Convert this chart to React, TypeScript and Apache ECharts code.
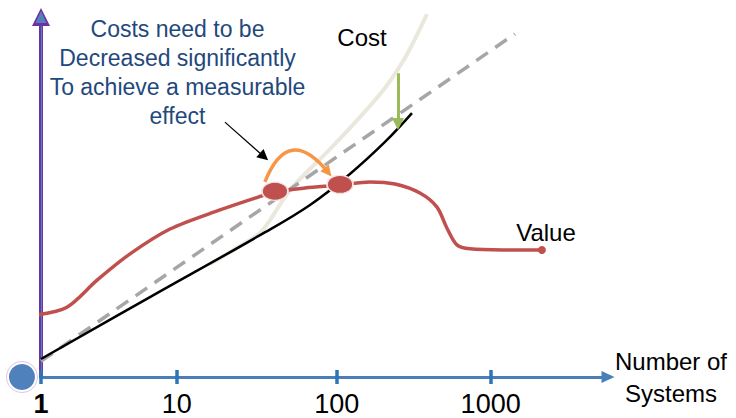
import { useEffect, useRef } from 'react';
import * as echarts from 'echarts';

// Horizontal axis: position along the drawn scale (roughly one unit per decade)
const tickPositions = [0, 0.905, 1.973, 3];
const tickLabels = ['1', '10', '100', '1000'];

// Original cost curve (rises faster than linear)
const costX = [1.127, 1.328, 1.474, 1.661, 1.928, 2.128, 2.295, 2.428, 2.575];
const costY = [31.4, 36.4, 40.6, 51.9, 63.3, 72.2, 80.3, 88.6, 100.8];

// Linear cost trend
const trendX = [0, 3.162];
const trendY = [4.4, 95.3];

// Reduced cost curve
const reducedX = [0, 0.727, 1.461, 1.795, 2.061, 2.295, 2.475];
const reducedY = [5.0, 22.2, 39.4, 47.8, 56.4, 65.3, 73.3];

// Value curve
const valueX = [-0.033, 0.173, 0.374, 0.594, 0.861, 1.194, 1.428, 1.561, 1.761, 1.995, 2.195, 2.362, 2.528, 2.642, 2.708, 2.775, 2.862, 3.082, 3.342];
const valueY = [17.2, 19.4, 26.9, 34.2, 41.1, 46.4, 49.7, 51.4, 52.5, 53.3, 54.2, 53.6, 51.1, 47.2, 41.4, 36.7, 35.6, 35.3, 35.3];

// Break-even points of value vs. cost (before / after reduction)
const breakEvenX = [1.561, 1.995];
const breakEvenY = [51.6, 53.5];

// Origin marker
const originX = [-0.127];
const originY = [0];

// Annotation arrows: [fromX, fromY, toX, toY]
const shiftArrow = [1.494, 54.2, 1.915, 56.9];
const calloutArrow = [1.227, 70.8, 1.488, 61.2];
const reductionArrow = [2.382, 84.4, 2.382, 70.3];

const zip = (xs: number[], ys: number[]) => xs.map((x, i) => [x, ys[i]]);

const FONT = 'Liberation Sans, Arial, sans-serif';

const arrowSeries = (
  name: string,
  a: number[],
  color: string,
  width: number,
  curveness: number,
  head: number[],
) => ({
  name,
  type: 'lines',
  coordinateSystem: 'cartesian2d',
  silent: true,
  z: 9,
  symbol: ['none', 'triangle'],
  symbolSize: head,
  lineStyle: { color, width, curveness, opacity: 1, type: 'solid' },
  data: [{ coords: [[a[0], a[1]], [a[2], a[3]]] }],
});

export default function App() {
  const ref = useRef<HTMLDivElement>(null);

  useEffect(() => {
    if (!ref.current) return;
    const chart = echarts.init(ref.current, undefined, { renderer: 'svg' });

    const labelFor = (v: number) => {
      let best = 0;
      tickPositions.forEach((p, i) => {
        if (Math.abs(p - v) < Math.abs(tickPositions[best] - v)) best = i;
      });
      return best === 0 ? `{b|${tickLabels[best]}}` : tickLabels[best];
    };

    chart.setOption({
      animation: false,
      grid: { left: 41, right: 128, top: 17, bottom: 41 },
      xAxis: [
        {
          type: 'value',
          min: 0,
          max: 3.783,
          splitLine: { show: false },
          axisLine: {
            show: true,
            symbol: ['none', 'triangle'],
            symbolSize: [12, 13],
            lineStyle: { color: '#4A7EBB', width: 3 },
          },
          axisTick: {
            show: true,
            customValues: tickPositions,
            length: 7,
            lineStyle: { color: '#2E75B6', width: 3.5 },
          },
          axisLabel: {
            customValues: tickPositions,
            formatter: (v: number) => labelFor(v),
            fontSize: 27,
            color: '#000',
            fontFamily: FONT,
            margin: 13,
            rich: { b: { fontSize: 27, fontWeight: 'bold', color: '#000', fontFamily: FONT } },
          },
          name: 'Number of\nSystems',
          nameLocation: 'end',
          nameGap: 63,
          nameTextStyle: {
            fontSize: 24,
            color: '#000',
            fontFamily: FONT,
            align: 'center',
            verticalAlign: 'middle',
            lineHeight: 32,
          },
        },
        {
          type: 'value',
          min: 0,
          max: 3.783,
          position: 'bottom',
          splitLine: { show: false },
          axisLine: { show: false },
          axisLabel: { show: false },
          axisTick: {
            show: true,
            inside: true,
            customValues: tickPositions,
            length: 7,
            lineStyle: { color: '#2E75B6', width: 3.5 },
          },
        },
      ],
      yAxis: [
        {
          type: 'value',
          min: 0,
          max: 100,
          offset: 19,
          splitLine: { show: false },
          axisTick: { show: false },
          axisLabel: { show: false },
          axisLine: {
            show: true,
            symbol: ['none', 'triangle'],
            symbolSize: [18, 18],
            lineStyle: { color: '#7030A0', width: 4 },
          },
        },
        {
          type: 'value',
          min: 0,
          max: 100,
          position: 'left',
          offset: 19,
          splitLine: { show: false },
          axisTick: { show: false },
          axisLabel: { show: false },
          axisLine: {
            show: true,
            symbol: ['none', 'triangle'],
            symbolSize: [11, 12],
            lineStyle: { color: '#4F81BD', width: 1.2 },
          },
        },
      ],
      graphic: [
        {
          type: 'text',
          x: 177.5,
          y: 72,
          style: {
            text: 'Costs need to be\nDecreased significantly\nTo achieve a measurable\neffect',
            fill: '#1F497D',
            fontSize: 23,
            fontFamily: FONT,
            lineHeight: 29,
            align: 'center',
            verticalAlign: 'middle',
          },
        },
        {
          type: 'text',
          x: 362,
          y: 37,
          style: { text: 'Cost', fill: '#000', fontSize: 24, fontFamily: FONT, align: 'center', verticalAlign: 'middle' },
        },
        {
          type: 'text',
          x: 546,
          y: 232,
          style: { text: 'Value', fill: '#000', fontSize: 24, fontFamily: FONT, align: 'center', verticalAlign: 'middle' },
        },
      ],
      series: [
        {
          name: 'Cost',
          type: 'line',
          data: zip(costX, costY),
          smooth: 0.35,
          showSymbol: false,
          clip: false,
          z: 2,
          lineStyle: { color: '#EAE8DC', width: 4 },
        },
        {
          name: 'Linear trend',
          type: 'line',
          data: zip(trendX, trendY),
          showSymbol: false,
          clip: false,
          z: 3,
          lineStyle: { color: '#A6A6A6', width: 3.5, type: [14, 9] },
        },
        {
          name: 'Reduced cost',
          type: 'line',
          data: zip(reducedX, reducedY),
          smooth: 0.4,
          showSymbol: false,
          clip: false,
          z: 4,
          lineStyle: { color: '#000', width: 2.5 },
        },
        {
          name: 'Value',
          type: 'line',
          data: zip(valueX, valueY),
          smooth: 0.3,
          showSymbol: false,
          clip: false,
          z: 5,
          lineStyle: { color: '#C0504D', width: 3.5 },
        },
        {
          name: 'Value end',
          type: 'scatter',
          data: [[valueX[valueX.length - 1], valueY[valueY.length - 1]]],
          symbol: 'circle',
          symbolSize: 8,
          clip: false,
          z: 6,
          itemStyle: { color: '#C0504D', opacity: 1 },
        },
        {
          name: 'Break-even',
          type: 'scatter',
          data: zip(breakEvenX, breakEvenY),
          symbol: 'circle',
          symbolSize: [26, 18],
          clip: false,
          z: 6,
          itemStyle: { color: '#C0504D', borderColor: '#F6E2E2', borderWidth: 1.5, opacity: 1 },
        },
        arrowSeries('Shift', shiftArrow, '#F79646', 3.5, 0.85, [12, 11]),
        arrowSeries('Callout', calloutArrow, '#000000', 1.2, 0, [10, 11]),
        arrowSeries('Reduction', reductionArrow, '#9BBB59', 3, 0, [13, 12]),
        {
          name: 'Origin ring',
          type: 'scatter',
          data: zip(originX, originY),
          symbol: 'circle',
          symbolSize: 31,
          clip: false,
          z: 7,
          itemStyle: { color: '#FFFFFF', borderColor: '#E3C3E3', borderWidth: 1, opacity: 1 },
        },
        {
          name: 'Origin',
          type: 'scatter',
          data: zip(originX, originY),
          symbol: 'circle',
          symbolSize: 26,
          clip: false,
          z: 8,
          itemStyle: { color: '#4F81BD', opacity: 1 },
        },
      ],
    });

    return () => chart.dispose();
  }, []);

  return (
    <div
      ref={ref}
      style={{ position: 'fixed', left: 0, top: 0, width: 736, height: 418, background: '#fff' }}
    />
  );
}
